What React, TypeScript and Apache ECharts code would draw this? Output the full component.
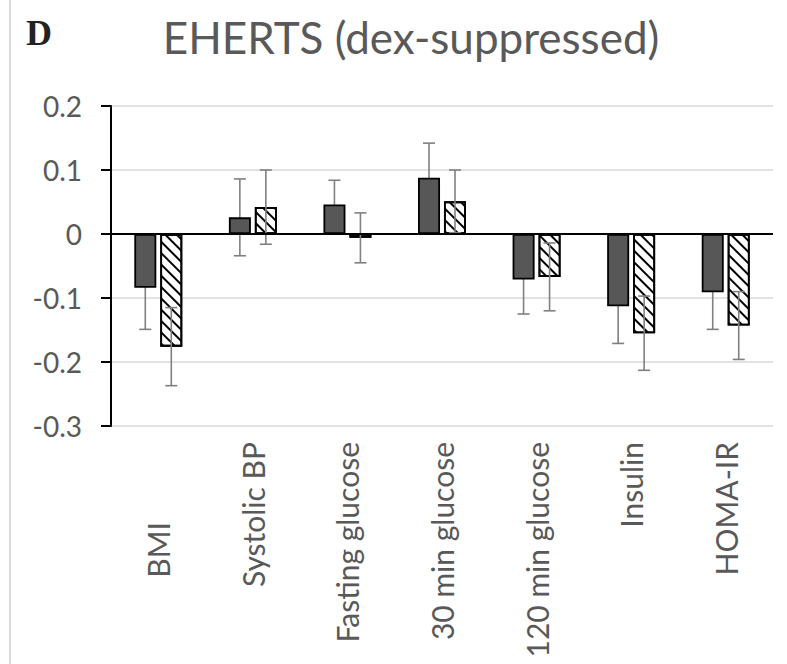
import React, { useEffect, useRef } from "react";
import * as echarts from "echarts";

const categories = ["BMI", "Systolic BP", "Fasting glucose", "30 min glucose", "120 min glucose", "Insulin", "HOMA-IR"];
const solidValues = [-0.084, 0.026, 0.046, 0.088, -0.071, -0.113, -0.091];
const solidErrors = [0.065, 0.06, 0.038, 0.054, 0.054, 0.058, 0.058];
const hatchValues = [-0.176, 0.042, -0.006, 0.051, -0.067, -0.155, -0.143];
const hatchErrors = [0.061, 0.058, 0.039, 0.049, 0.053, 0.058, 0.053];
const yTicks = { min: -0.3, max: 0.2, interval: 0.1 };

const BAR_W = 22;
const HALF_OFFSET = 13;
const FONT = "Lato";
const GREY_TEXT = "#595959";

function errorRenderer(offset: number) {
  return (params: any, api: any) => {
    const i = api.value(0);
    const v = api.value(1);
    const e = api.value(2);
    const top = api.coord([i, v + e]);
    const bot = api.coord([i, v - e]);
    const x = top[0] + offset;
    const cap = 6;
    const st = { stroke: "#808080", lineWidth: 1.6 };
    return {
      type: "group",
      children: [
        { type: "line", shape: { x1: x, y1: top[1], x2: x, y2: bot[1] }, style: st },
        { type: "line", shape: { x1: x - cap, y1: top[1], x2: x + cap, y2: top[1] }, style: st },
        { type: "line", shape: { x1: x - cap, y1: bot[1], x2: x + cap, y2: bot[1] }, style: st },
      ],
    };
  };
}

export default function App() {
  const ref = useRef<HTMLDivElement>(null);
  useEffect(() => {
    if (!ref.current) return;
    const chart = echarts.init(ref.current, null, { renderer: "svg" });
    const xData = categories.map((c, i) =>
      i === 0 ? { value: c, textStyle: { padding: [0, 80, 0, 0] } } : c
    );
    chart.setOption({
      animation: false,
      backgroundColor: "#ffffff",
      grid: { left: 111, top: 106, width: 662, height: 320, containLabel: false },
      graphic: [
        { type: "line", shape: { x1: 10, y1: 0, x2: 10, y2: 664 }, style: { stroke: "#d9d9d9", lineWidth: 2 } },
        {
          type: "text",
          x: 26,
          y: 33,
          style: { text: "D", fontFamily: "Liberation Serif", fontSize: 36, fontWeight: "bold", fill: "#222", verticalAlign: "middle", align: "left" },
        },
        {
          type: "text",
          x: 411,
          y: 37,
          style: { text: "EHERTS (dex-suppressed)", fontFamily: FONT, fontSize: 44, fill: GREY_TEXT, align: "center", verticalAlign: "middle" },
        },
      ],
      xAxis: {
        type: "category",
        data: xData,
        axisLine: { show: false },
        axisTick: { show: false },
        axisLabel: { rotate: 90, margin: 16, color: GREY_TEXT, fontFamily: FONT, fontSize: 30, interval: 0 },
        splitLine: { show: false },
      },
      yAxis: {
        type: "value",
        min: yTicks.min,
        max: yTicks.max,
        interval: yTicks.interval,
        axisLine: { show: true, lineStyle: { color: "#000", width: 2 } },
        axisTick: { show: true, length: 10, lineStyle: { color: "#000", width: 2 } },
        axisLabel: {
          margin: 29,
          color: GREY_TEXT,
          fontFamily: FONT,
          fontSize: 28,
          formatter: (v: number) => {
            const r = Math.round(v * 10) / 10;
            return r === 0 ? "0" : r.toFixed(1);
          },
        },
        splitLine: { show: true, lineStyle: { color: "#d9d9d9", width: 1.5 } },
      },
      series: [
        {
          type: "custom",
          z: 1,
          renderItem: errorRenderer(-HALF_OFFSET),
          data: categories.map((c, i) => [i, solidValues[i], solidErrors[i]]),
          encode: { x: 0, y: 1 },
        },
        {
          type: "bar",
          z: 2,
          barWidth: BAR_W,
          barGap: "18%",
          data: solidValues,
          itemStyle: { color: "#575757", borderColor: "#000", borderWidth: 1.8 },
        },
        {
          type: "bar",
          z: 2,
          barWidth: BAR_W,
          barGap: "18%",
          data: hatchValues,
          itemStyle: {
            color: "#ffffff",
            borderColor: "#000",
            borderWidth: 1.8,
            decal: {
              symbol: "rect",
              symbolSize: 1,
              dashArrayX: [1, 0],
              dashArrayY: [1.6, 5.5],
              rotation: Math.PI / 4,
              color: "#000",
            },
          },
          markLine: {
            silent: true,
            symbol: "none",
            label: { show: false },
            lineStyle: { color: "#000", width: 2, type: "solid" },
            data: [{ yAxis: 0 }],
          },
        },
        {
          type: "custom",
          z: 3,
          renderItem: errorRenderer(HALF_OFFSET),
          data: categories.map((c, i) => [i, hatchValues[i], hatchErrors[i]]),
          encode: { x: 0, y: 1 },
        },
      ],
    });
    return () => chart.dispose();
  }, []);
  return (
    <div
      ref={ref}
      style={{ position: "absolute", left: 0, top: 0, width: 787, height: 664, background: "#fff" }}
    />
  );
}
